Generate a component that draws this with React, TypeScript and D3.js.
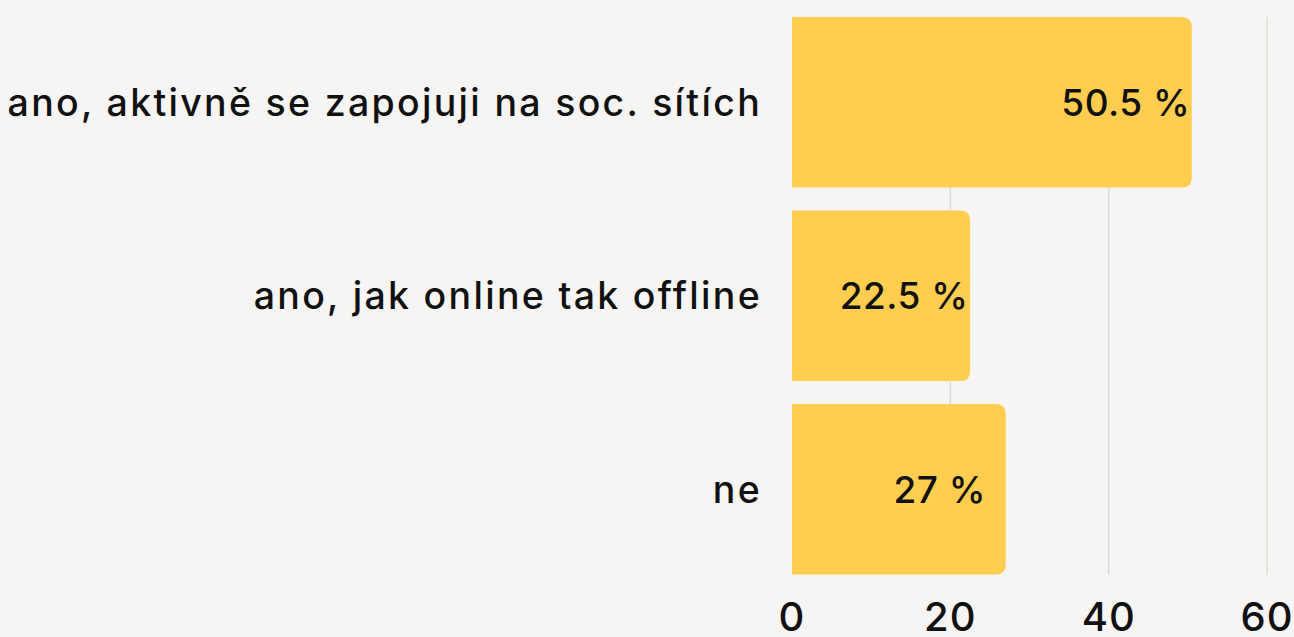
import React from 'react';
import * as d3 from 'd3';

const categories = ['ano, aktivně se zapojuji na soc. sítích', 'ano, jak online tak offline', 'ne'];
const values = [50.5, 22.5, 27];
const valueLabels = ['50.5 %', '22.5 %', '27 %'];
const ticks = [0, 20, 40, 60];

const W = 1294;
const H = 637;
const FONT = 'Inter, "Open Sans", sans-serif';

// bar with only the right-hand corners rounded
const barPath = (x0: number, x1: number, y0: number, h: number, r: number) => {
  const rr = Math.min(r, (x1 - x0) / 2, h / 2);
  return `M${x0},${y0}H${x1 - rr}Q${x1},${y0} ${x1},${y0 + rr}V${y0 + h - rr}Q${x1},${y0 + h} ${x1 - rr},${y0 + h}H${x0}Z`;
};

const App = () => {
  const x = d3.scaleLinear().domain([0, 60]).range([792, 1267]);
  const y = d3.scaleBand<string>().domain(categories).range([5.5, 586]).paddingInner(0.12).paddingOuter(0.06);
  const top = y(categories[0])!;
  const bottom = y(categories[categories.length - 1])! + y.bandwidth();

  return (
    <div style={{ position: 'fixed', left: 0, top: 0, width: W, height: H, background: '#f6f5f3' }}>
      <svg width={W} height={H} style={{ display: 'block' }}>
        <rect width={W} height={H} fill="#f6f5f3" />
        {ticks.filter((t) => t > 0).map((t) => (
          <line key={t} x1={x(t)} x2={x(t)} y1={top} y2={bottom} stroke="#dcdbd9" strokeWidth={1.5} />
        ))}
        {categories.map((c, i) => {
          const y0 = y(c)!;
          const cy = y0 + y.bandwidth() / 2;
          return (
            <g key={c}>
              <path d={barPath(x(0), x(values[i]), y0, y.bandwidth(), 10)} fill="#ffce50" />
              <text x={762} y={cy} dy="0.36em" textAnchor="end" fontFamily={FONT} fontWeight={500}
                fontSize={37.5} letterSpacing={2.3} fill="#111">
                {c}
              </text>
              <text x={x(values[i]) - 66} y={cy} dy="0.36em" textAnchor="middle" fontFamily={FONT} fontWeight={500}
                fontSize={37} letterSpacing={0.5} fill="#111">
                {valueLabels[i]}
              </text>
            </g>
          );
        })}
        {ticks.map((t) => (
          <text key={t} x={x(t)} y={631} textAnchor="middle" fontFamily={FONT} fontWeight={500}
            fontSize={40} letterSpacing={1} fill="#111">
            {t}
          </text>
        ))}
      </svg>
    </div>
  );
};

export default App;
